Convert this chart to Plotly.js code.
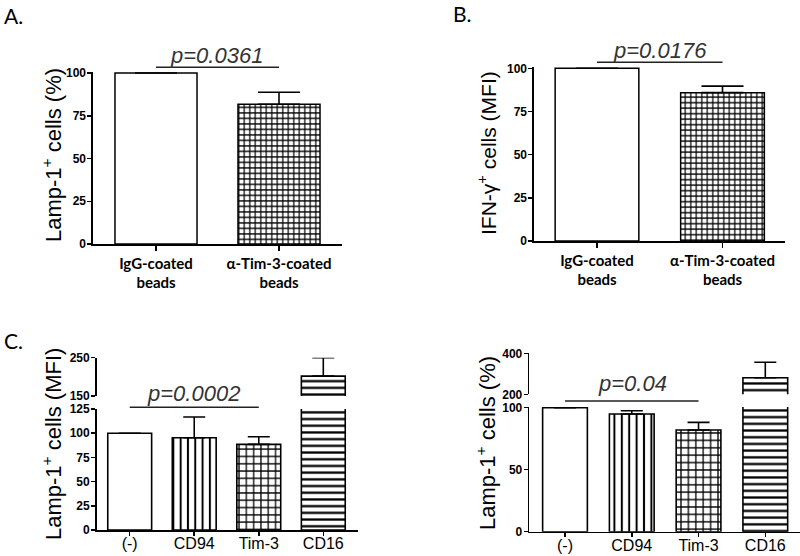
<!DOCTYPE html>
<html><head><meta charset="utf-8">
<script src="https://cdn.plot.ly/plotly-3.0.1.min.js"></script>
<style>html,body{margin:0;padding:0;background:#fff}#chart{width:800px;height:556px}</style>
</head><body><div id="chart"></div>
<script>
// ---------------- data ----------------
const catsAB = ['IgG-coated<br>beads', 'α-Tim-3-coated<br>beads'];
const lampPctA = [100, 81.7];
const lampPctAErr = [0, 7.0];
const ifngMfiB = [100, 85.9];
const ifngMfiBErr = [0, 3.8];
const catsC = ['(-)', 'CD94', 'Tim-3', 'CD16'];
const lampMfiC = [100, 95.3, 88.5, 202];
const lampMfiCErr = [0, 21.4, 7.9, 48];
const lampPctC = [100, 94.9, 82.0, 281];
const lampPctCErr = [0, 2.7, 6.2, 75];
const ticksA = [0, 25, 50, 75, 100];
const ticksCLow = [0, 25, 50, 75, 100, 125];
const ticksCHigh = [150, 250];
const ticksDLow = [0, 50, 100];
const ticksDHigh = [200, 400];
const pTextA = 'p=0.0361', pTextB = 'p=0.0176', pTextC = 'p=0.0002', pTextD = 'p=0.04';

// ---------------- layout helpers ----------------
const W = 800, H = 556;
function yAx(v0, p0, v1, p1, lo, hi) {
  const k = (p1 - p0) / (v1 - v0);
  const pLo = p0 + (lo - v0) * k, pHi = p0 + (hi - v0) * k;
  return {domain: [1 - pLo / H, 1 - pHi / H], range: [lo, hi]};
}
function xAx(c0, cN, n, left, right) {
  const k = (cN - c0) / (n - 1);
  return {domain: [left / W, right / W], range: [(left - c0) / k, (right - c0) / k], c0: c0, k: k};
}
function catPx(ax, i) { return (ax.c0 + i * ax.k) / W; }
function py(p) { return 1 - p / H; }

const XA = xAx(156, 279, 2, 93, 342);
const YA = yAx(0, 244, 100, 73, 0, 100.8);
const XB = xAx(597, 722.5, 2, 534, 785);
const YB = yAx(0, 241, 100, 68.3, 0, 100.8);
const XC = xAx(129.7, 323.3, 4, 96.7, 358.3);
const YCl = yAx(0, 530, 125, 409, 0, 125);
const YCh = yAx(150, 396, 250, 357.7, 150, 250);
const XD = xAx(565, 765.3, 4, 529.3, 800);
const YDl = yAx(0, 531.7, 100, 407.7, 0, 100.5);
const YDh = yAx(200, 394.3, 400, 353.3, 200, 400);

function bar(x, y, err, xa, ya, o) {
  return {
    type: 'bar', x: x, y: y, xaxis: xa, yaxis: ya, width: o.width,
    marker: {color: 'white', line: {color: 'black', width: o.lw},
      pattern: {shape: o.shapes, size: o.psize, solidity: o.sol, fgcolor: 'black', bgcolor: 'white', fillmode: 'replace'}},
    error_y: {type: 'data', array: err, arrayminus: err.map(() => 0), symmetric: false,
      color: 'black', thickness: 1.6, width: o.cap, visible: true},
    hoverinfo: 'skip', showlegend: false
  };
}
const styAB = {width: 0.667, lw: 1.5, shapes: ['', '+'], psize: [5.5, 5.5], sol: [0.3, 0.39], cap: 21};
const styC = {width: 0.68, lw: 1.6, shapes: ['', '|', '+', '-'], psize: [7, 7.3, 7.3, 6.7], sol: [0.3, 0.27, 0.32, 0.34], cap: 11};
const styD = {width: 0.67, lw: 1.6, shapes: ['', '|', '+', '-'], psize: [7, 7.4, 7.4, 6.7], sol: [0.3, 0.27, 0.32, 0.34], cap: 11};

const traces = [
  bar(catsAB, lampPctA, lampPctAErr, 'x', 'y', styAB),
  bar(catsAB, ifngMfiB, ifngMfiBErr, 'x2', 'y2', styAB),
  bar(catsC, lampMfiC, lampMfiCErr, 'x3', 'y3', styC),
  bar(catsC, lampMfiC, lampMfiCErr, 'x3', 'y4', styC),
  bar(catsC, lampPctC, lampPctCErr, 'x4', 'y5', styD),
  bar(catsC, lampPctC, lampPctCErr, 'x4', 'y6', styD)
];

const tickFontY = {family: 'Liberation Sans', size: 12, color: '#000', weight: 'bold'};
function xaxis(ax, anchor, font, ticklen, standoff) {
  return {domain: ax.domain, range: ax.range, type: 'category', anchor: anchor,
    showline: true, linecolor: 'black', linewidth: 1.6, ticks: 'outside', ticklen: ticklen,
    tickwidth: 1.5, tickcolor: 'black', showgrid: false, zeroline: false, tickfont: font,
    ticklabelstandoff: standoff, fixedrange: true};
}
function yaxis(ax, anchor, tv) {
  return {domain: ax.domain, range: ax.range, anchor: anchor, tickvals: tv,
    showline: true, linecolor: 'black', linewidth: 1.6, ticks: 'outside', ticklen: 4,
    tickwidth: 1.5, tickcolor: 'black', showgrid: false, zeroline: false, tickfont: tickFontY,
    ticklabelstandoff: -1, fixedrange: true};
}
const fontAB = {family: 'Lato', size: 15, color: 'black', weight: 'bold'};
const fontC = {family: 'Liberation Sans', size: 16, color: 'black'};

const titleFont = {family: 'Liberation Sans', size: 22, color: 'black'};
const pFont = {family: 'Liberation Sans', size: 22, color: '#333', style: 'italic'};
const letterFont = {family: 'Lato', size: 21, color: 'black'};

function ann(text, x, y, font, angle) {
  return {text: text, x: x / W, y: py(y), xref: 'paper', yref: 'paper', showarrow: false,
    xanchor: 'center', yanchor: 'middle', font: font, textangle: angle || 0};
}
function pline(ax, i0, i1, y) {
  return {type: 'line', xref: 'paper', yref: 'paper', x0: catPx(ax, i0), x1: catPx(ax, i1),
    y0: py(y), y1: py(y), line: {color: '#222', width: 1.5}};
}

const layout = {
  width: W, height: H, margin: {l: 0, r: 0, t: 0, b: 0},
  paper_bgcolor: 'white', plot_bgcolor: 'rgba(0,0,0,0)', bargap: 0.3, showlegend: false,
  xaxis: xaxis(XA, 'y', fontAB, 5, 0),
  yaxis: yaxis(YA, 'x', ticksA),
  xaxis2: xaxis(XB, 'y2', fontAB, 5, 0),
  yaxis2: yaxis(YB, 'x2', ticksA),
  xaxis3: xaxis(XC, 'y3', fontC, 4, -6),
  yaxis3: yaxis(YCl, 'x3', ticksCLow),
  yaxis4: yaxis(YCh, 'x3', ticksCHigh),
  xaxis4: xaxis(XD, 'y5', fontC, 4, -6),
  yaxis5: yaxis(YDl, 'x4', ticksDLow),
  yaxis6: yaxis(YDh, 'x4', ticksDHigh),
  shapes: [
    pline(XA, 0, 1, 67.3),
    pline(XB, 0, 1, 62.3),
    pline(XC, 0, 2, 407.3),
    pline(XD, 0, 2, 401)
  ],
  annotations: [
    {text: 'A.', x: 2 / W, y: py(15), xref: 'paper', yref: 'paper', showarrow: false, xanchor: 'left', yanchor: 'middle', font: letterFont},
    {text: 'B.', x: 451 / W, y: py(14), xref: 'paper', yref: 'paper', showarrow: false, xanchor: 'left', yanchor: 'middle', font: letterFont},
    {text: 'C.', x: 2 / W, y: py(340), xref: 'paper', yref: 'paper', showarrow: false, xanchor: 'left', yanchor: 'middle', font: letterFont},
    ann('Lamp-1<sup>+</sup> cells (%)', 52, 155, titleFont, -90),
    ann('IFN-γ<sup>+</sup> cells (MFI)', 487, 153, {family: 'Liberation Sans', size: 21, color: 'black'}, -90),
    ann('Lamp-1<sup>+</sup> cells (MFI)', 52, 444, titleFont, -90),
    ann('Lamp-1<sup>+</sup> cells (%)', 486, 443, titleFont, -90),
    ann(pTextA, 216, 55, pFont),
    ann(pTextB, 660, 50, pFont),
    ann(pTextC, 193, 393, pFont),
    ann(pTextD, 632, 383, pFont)
  ]
};

Plotly.newPlot('chart', traces, layout, {displayModeBar: false, staticPlot: true});
</script>
</body></html>
